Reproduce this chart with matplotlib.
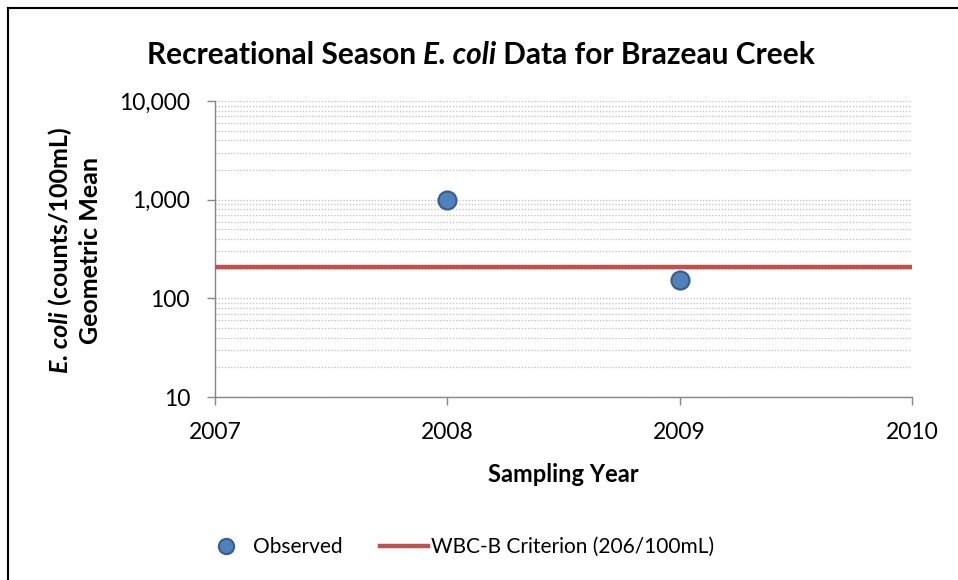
import matplotlib
matplotlib.use("Agg")
import matplotlib.pyplot as plt
from matplotlib.lines import Line2D
from matplotlib.ticker import FixedLocator, FuncFormatter, LogLocator, NullFormatter

plt.rcParams['font.family'] = ['Lato', 'DejaVu Sans']

years = [2008, 2009]
geo_mean = [1000, 152]
criterion_value = 206
x_range = [2007, 2010]
x_ticks = [2007, 2008, 2009, 2010]
y_ticks = [10, 100, 1000, 10000]

W, H = 958, 580
fig = plt.figure(figsize=(W / 100, H / 100), dpi=100)
ax = fig.add_axes([215 / W, 1 - 397 / H, (912 - 215) / W, (397 - 101) / H])

ax.set_yscale('log')
ax.set_ylim(10, 10000)
ax.set_xlim(x_range)

grey = '#868686'
ax.yaxis.set_major_locator(FixedLocator(y_ticks))
ax.yaxis.set_minor_locator(LogLocator(base=10, subs=range(2, 10)))
ax.yaxis.set_minor_formatter(NullFormatter())
ax.yaxis.set_major_formatter(FuncFormatter(lambda v, p: f"{int(round(v)):,}"))
ax.set_xticks(x_ticks)
ax.set_xticklabels([str(t) for t in x_ticks])

ax.grid(True, which='both', axis='y', linestyle=(0, (1, 1.5)), color='#BFBFBF', linewidth=0.9)
ax.set_axisbelow(True)

for s in ['top', 'right']:
    ax.spines[s].set_visible(False)
for s in ['left', 'bottom']:
    ax.spines[s].set_color(grey)
    ax.spines[s].set_linewidth(1.0)
ax.tick_params(axis='both', which='major', direction='out', length=6, color=grey,
               width=1.0, labelsize=16.5, labelcolor='black')
ax.tick_params(axis='y', which='minor', length=0)
ax.tick_params(axis='x', pad=12)
ax.tick_params(axis='y', pad=12)

ax.plot(x_range, [criterion_value, criterion_value], color='#C0504D', linewidth=3.2,
        solid_capstyle='butt', clip_on=False, zorder=3)
ax.plot(years, geo_mean, linestyle='none', marker='o', markersize=13,
        markerfacecolor='#4F81BD', markeredgecolor='#385D8A', markeredgewidth=1.5,
        zorder=4, clip_on=False)

# Frame (top and left only visible in reference)
fig.add_artist(Line2D([8 / W, 8 / W], [0, 1 - 8 / H], color='black', linewidth=1.5))
fig.add_artist(Line2D([8 / W, 1], [1 - 8 / H, 1 - 8 / H], color='black', linewidth=1.5))

fig.canvas.draw()
renderer = fig.canvas.get_renderer()


def mixed_text(parts, x_px, y_px, size, rotation=0):
    """parts: list of (text, style). Centered at pixel (x_px, y_px) from top-left."""
    widths = []
    objs = []
    for txt, style in parts:
        t = fig.text(0, 0, txt, fontsize=size, fontweight='bold', fontstyle=style,
                     rotation=rotation, ha='left', va='center', transform=None)
        objs.append(t)
    fig.canvas.draw()
    for t in objs:
        bb = t.get_window_extent(renderer)
        widths.append(bb.height if rotation == 90 else bb.width)
    total = sum(widths)
    y_disp = H - y_px
    if rotation == 0:
        cur = x_px - total / 2
        for t, w in zip(objs, widths):
            t.set_position((cur, y_disp))
            cur += w
    else:
        cur = y_disp - total / 2
        for t, w in zip(objs, widths):
            t.set_ha('center')
            t.set_va('bottom')
            t.set_position((x_px, cur))
            cur += w


mixed_text([("Recreational Season ", 'normal'), ("E. coli", 'italic'),
            (" Data for Brazeau Creek", 'normal')], 481, 55, 21.5)

mixed_text([("E. coli", 'italic'), (" (counts/100mL)", 'normal')], 60, 250, 18, rotation=90)
fig.text(90 / W, 1 - 250 / H, "Geometric Mean", fontsize=18, fontweight='bold',
         rotation=90, ha='center', va='center')

fig.text(563 / W, 1 - 475 / H, "Sampling Year", fontsize=17, fontweight='bold',
         ha='center', va='center')

handles = [
    Line2D([], [], linestyle='none', marker='o', markersize=11,
           markerfacecolor='#4F81BD', markeredgecolor='#385D8A', markeredgewidth=1.5),
    Line2D([], [], color='#C0504D', linewidth=3.2),
]
fig.legend(handles, ["Observed", "WBC-B Criterion (206/100mL)"], loc='center',
           bbox_to_anchor=(458 / W, 1 - 547 / H), ncol=2, frameon=False, fontsize=15,
           handlelength=2.3, handletextpad=0.15, columnspacing=1.8)

fig.savefig("out.png", dpi=100)
